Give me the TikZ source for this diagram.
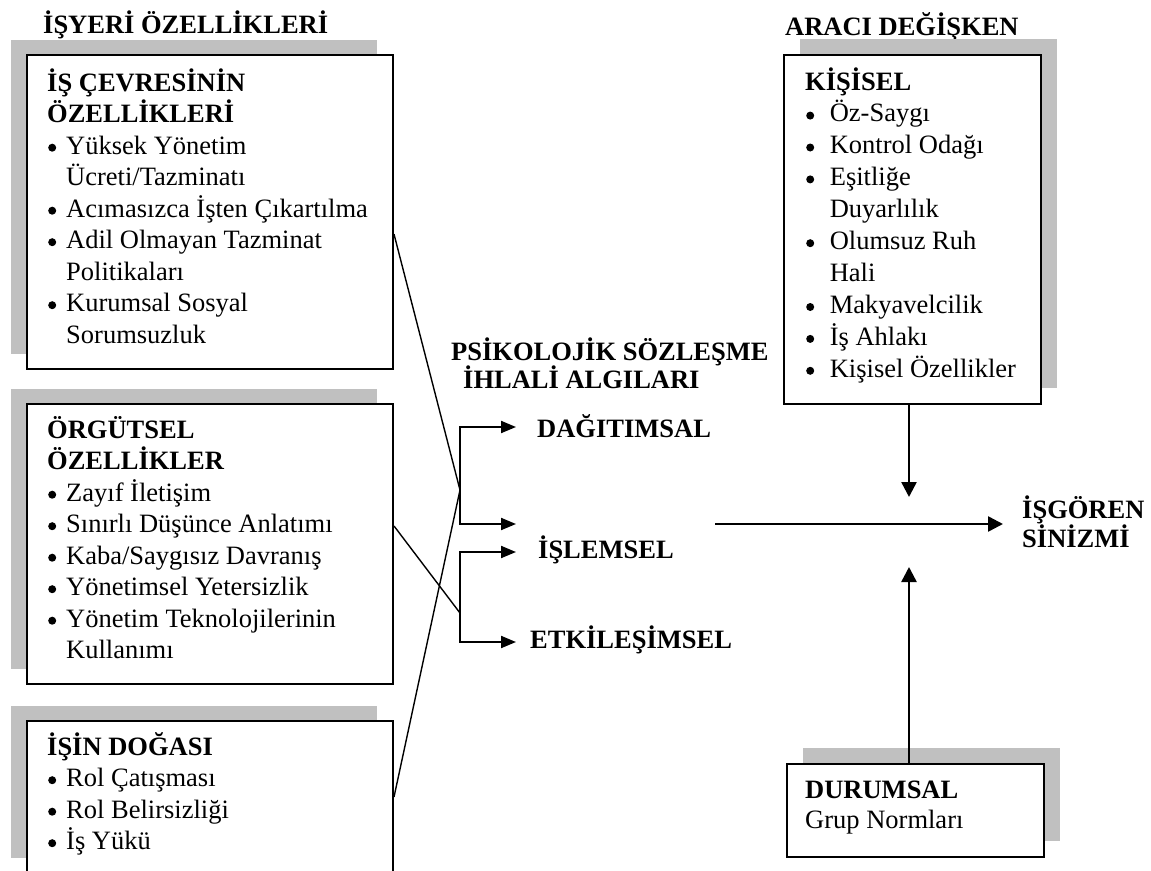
\documentclass[tikz,border=0pt]{standalone}
\usepackage{fontspec}
\setmainfont{Liberation Serif}[BoldFont={Liberation Serif Bold}]
\usetikzlibrary{arrows.meta,calc,shadows}
\definecolor{shade}{RGB}{192,192,192}
% round bullet with hanging indent, and indent for continuation lines
\newcommand\itemdot[1][19pt]{\makebox[#1][l]{\hspace{1pt}\raisebox{2.3pt}{\tikz\fill (0,0) circle (4pt);}}}
\newcommand\contind[1][19pt]{\hspace*{#1}}
% block of lines whose reference point is the first baseline
\newcommand\lines[2][31.5pt]{\parbox[t]{400pt}{\baselineskip=#1\relax #2}}
\tikzset{
  panel/.style={draw=black, line width=2pt, fill=white, rectangle,
    inner sep=0pt, anchor=north west},
  shadeleft/.style={general shadow={shadow xshift=-16pt, shadow yshift=15pt, fill=shade}},
  shaderight/.style={general shadow={shadow xshift=16pt, shadow yshift=16pt, fill=shade}},
  txt/.style={anchor=base west, inner sep=0pt,
    font=\fontsize{26.5}{31.5}\selectfont},
  head/.style={txt, font=\fontsize{26.5}{29}\selectfont\bfseries},
  link/.style={line width=1.4pt},
  bracket/.style={line width=2pt, line join=miter,
    {Triangle[length=15pt,width=12pt]}-{Triangle[length=15pt,width=12pt]}},
  arr/.style={line width=2.5pt, -{Triangle[length=15pt,width=15pt]}},
}
\begin{document}
\begin{tikzpicture}[x=1pt, y=-1pt]
\useasboundingbox (0,0) rectangle (1151,870);

% ---- left column: workplace characteristics
\node[head] (title1) at (43,33) {İŞYERİ ÖZELLİKLERİ};

\node[panel, shadeleft, minimum width=366pt, minimum height=314pt] (env) at (26,54) {};
\node[txt] (envtxt) at (47,91) {\lines{\textbf{İŞ ÇEVRESİNİN}\\
  \textbf{ÖZELLİKLERİ}\\
  \itemdot Yüksek Yönetim\\
  \contind Ücreti/Tazminatı\\
  \itemdot Acımasızca İşten Çıkartılma\\
  \itemdot Adil Olmayan Tazminat\\
  \contind Politikaları\\
  \itemdot Kurumsal Sosyal\\
  \contind Sorumsuzluk}};

\node[panel, shadeleft, minimum width=366pt, minimum height=280pt] (org) at (26,403) {};
\node[txt] (orgtxt) at (47,438) {\lines{\textbf{ÖRGÜTSEL}\\
  \textbf{ÖZELLİKLER}\\
  \itemdot Zayıf İletişim\\
  \itemdot Sınırlı Düşünce Anlatımı\\
  \itemdot Kaba/Saygısız Davranış\\
  \itemdot Yönetimsel Yetersizlik\\
  \itemdot Yönetim Teknolojilerinin\\
  \contind Kullanımı}};

\node[panel, shadeleft, minimum width=366pt, minimum height=152pt] (job) at (26,720) {};
\node[txt] (jobtxt) at (47,755) {\lines{\textbf{İŞİN DOĞASI}\\
  \itemdot Rol Çatışması\\
  \itemdot Rol Belirsizliği\\
  \itemdot İş Yükü}};

% ---- middle: perceived breach
\node[head] (psk1) at (451,360) {PSİKOLOJİK SÖZLEŞME};
\node[head] (psk2) at (463,388) {İHLALİ ALGILARI};
\node[head] (dag) at (537,437) {DAĞITIMSAL};
\node[head] (isl) at (538,558) {İŞLEMSEL};
\node[head] (etk) at (530,648) {ETKİLEŞİMSEL};

\coordinate (jA) at (460,490);
\coordinate (jB) at (460,613);
\coordinate (uTop) at (460,427);
\coordinate (uBot) at (460,524);
\coordinate (lTop) at (460,552);
\coordinate (lBot) at (460,642);
\coordinate (tD) at (516,427);
\coordinate (tI) at (516,524);
\coordinate (tI2) at (516,552);
\coordinate (tE) at (516,642);

\draw[link] ($(env.north east)!0.57!(env.south east)$) -- (jA);
\draw[link] ($(org.north east)!0.436!(org.south east)$) -- (jB);
\draw[link] (job.east) -- (jA);
\draw[bracket] (tD) -- (uTop) -- (uBot) -- (tI);
\draw[bracket] (tI2) -- (lTop) -- (lBot) -- (tE);

% ---- right column: moderators and outcome
\node[head] (title2) at (785,35) {ARACI DEĞİŞKEN};
\node[panel, shaderight, minimum width=257pt, minimum height=349pt] (kis) at (783,54) {};
\node[txt] (kistxt) at (805,90) {\lines[31.9pt]{\textbf{KİŞİSEL}\\
  \itemdot[18pt] Öz-Saygı\\
  \itemdot[18pt] Kontrol Odağı\\
  \itemdot[18pt] Eşitliğe\\
  \contind[18pt] Duyarlılık\\
  \itemdot[18pt] Olumsuz Ruh\\
  \contind[18pt] Hali\\
  \itemdot[18pt] Makyavelcilik\\
  \itemdot[18pt] İş Ahlakı\\
  \itemdot[18pt] Kişisel Özellikler}};

\node[panel, shaderight, minimum width=257pt, minimum height=93pt] (dur) at (786,763) {};
\node[txt] (durtxt) at (805,798) {\lines[30pt]{\textbf{DURUMSAL}\\
  Grup Normları}};

\node[head] (out) at (1022,518) {\lines[29pt]{İŞGÖREN\\SİNİZMİ}};

\coordinate (mS) at (715,524);
\coordinate (mE) at (1003,524);
\coordinate (vTip1) at (909,497);
\coordinate (vTip2) at (909,567);
\draw[arr] (mS) -- (mE);
\draw[arr] (vTip1 |- kis.south) -- (vTip1);
\draw[arr] (vTip2 |- dur.north) -- (vTip2);
\end{tikzpicture}
\end{document}
